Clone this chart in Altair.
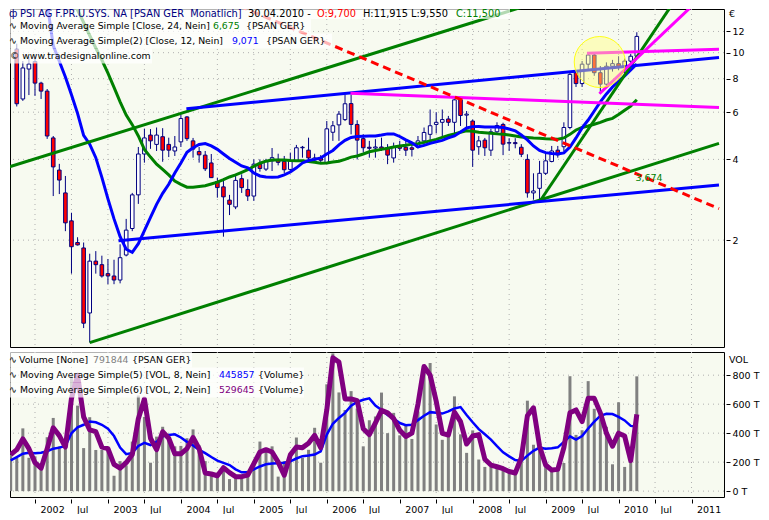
import altair as alt
import pandas as pd

FONT = "DejaVu Sans"
BG = "#F7FAF0"

# ---------------- data ----------------
# month index t = months since Jan 2002 (Jan 2002 = 0)
months = pd.date_range("2001-09-01", "2010-04-01", freq="MS")
t_all = [(d.year - 2002) * 12 + d.month - 1 for d in months]          # -4 .. 99
t_candle = t_all[1:]                                                    # Oct 2001 .. Apr 2010

opens = [10.3, 6.72, 8.69, 9.27, 7.7, 7.19, 4.81, 3.65, 3.0, 2.36, 1.96, 1.87, 1.07, 1.67, 1.62,
         1.50, 1.47, 1.42, 1.76, 2.21, 2.95, 4.19, 4.93, 4.55, 4.86, 4.55, 4.30, 4.65, 5.76, 4.69,
         4.28, 4.15, 3.88, 3.31, 3.16, 2.82, 2.66, 3.39, 3.09, 2.92, 3.84, 3.68, 3.95, 4.0, 3.93,
         3.67, 3.95, 4.42, 4.33, 3.98, 4.06, 3.89, 5.05, 5.38, 5.63, 6.46, 5.40, 4.78, 4.44, 4.41,
         4.45, 4.42, 4.05, 4.49, 4.44, 4.42, 4.44, 4.69, 4.96, 5.40, 5.5, 5.66, 5.5, 6.67, 5.85,
         5.56, 4.46, 4.72, 4.33, 5.07, 5.40, 4.6, 4.62, 4.44, 4.0, 3.0, 3.12, 3.55, 3.93, 4.33,
         4.46, 5.26, 8.42, 7.67, 9.06, 9.8, 8.42, 7.63, 8.9, 9.1, 8.9, 9.3, 9.7]
highs = [10.8, 9.31, 9.63, 9.6, 7.79, 7.32, 4.89, 3.85, 3.47, 2.53, 2.05, 1.96, 1.78, 1.82, 1.75,
         1.70, 1.69, 1.93, 2.40, 3.0, 4.45, 5.21, 5.19, 5.26, 5.23, 4.82, 4.89, 5.86, 5.80, 4.81,
         4.45, 4.30, 4.19, 3.42, 3.34, 2.95, 3.47, 3.52, 3.37, 4.0, 4.0, 4.02, 4.41, 4.2, 4.12,
         4.24, 4.53, 4.49, 4.82, 4.2, 4.15, 5.56, 5.56, 6.06, 6.98, 6.98, 5.60, 4.96, 4.69, 4.76,
         4.82, 4.56, 4.62, 4.69, 4.69, 4.62, 4.89, 5.26, 6.14, 6.0, 6.14, 5.81, 6.71, 6.77, 6.06,
         5.63, 4.89, 4.81, 5.2, 5.5, 5.48, 4.8, 4.8, 4.56, 4.18, 3.55, 3.95, 4.2, 4.49, 4.49,
         5.5, 8.42, 8.54, 9.31, 9.95, 9.95, 8.92, 9.2, 9.4, 9.7, 9.5, 9.9, 11.915]
lows = [6.3, 6.61, 6.95, 6.9, 6.72, 4.77, 2.92, 2.97, 2.16, 1.50, 1.91, 0.94, 0.83, 1.50, 1.45,
        1.37, 1.37, 1.38, 1.74, 2.16, 2.73, 3.89, 4.38, 4.30, 3.92, 4.08, 4.12, 4.45, 4.69, 4.06,
        3.89, 3.62, 3.41, 2.88, 2.06, 2.48, 2.61, 3.0, 2.80, 2.80, 3.6, 3.62, 3.62, 3.8, 3.56,
        3.56, 3.95, 4.06, 3.95, 3.90, 3.85, 3.84, 4.69, 4.69, 5.56, 4.96, 4.0, 4.24, 4.06, 4.06,
        4.3, 3.84, 3.89, 4.3, 4.12, 4.10, 4.40, 4.49, 4.56, 5.0, 4.89, 5.33, 4.89, 5.33, 5.11,
        3.75, 4.16, 4.12, 4.12, 4.95, 4.15, 4.3, 4.4, 4.08, 2.88, 2.83, 2.78, 3.50, 3.9, 4.06,
        4.3, 5.18, 7.45, 7.45, 8.6, 8.2, 7.02, 7.5, 8.5, 8.6, 8.4, 9.0, 9.55]
closes = [6.45, 8.77, 9.07, 7.7, 7.19, 4.89, 3.75, 3.35, 2.32, 1.89, 1.92, 0.98, 1.67, 1.62, 1.47,
          1.47, 1.42, 1.72, 2.18, 2.95, 4.19, 4.81, 4.69, 4.93, 4.33, 4.33, 4.45, 5.68, 4.78, 4.37,
          4.16, 3.69, 3.42, 3.14, 2.90, 2.72, 3.34, 3.14, 2.92, 3.84, 3.7, 3.96, 4.06, 3.9, 3.66,
          3.95, 4.42, 4.44, 4.05, 4.05, 3.97, 5.2, 5.34, 5.90, 6.45, 5.40, 4.72, 4.42, 4.40, 4.45,
          4.40, 4.15, 4.45, 4.40, 4.33, 4.36, 4.69, 5.04, 5.34, 5.50, 5.63, 5.5, 6.67, 5.83, 5.9,
          4.33, 4.69, 4.42, 5.07, 5.35, 4.56, 4.62, 4.58, 4.18, 3.0, 3.05, 3.55, 3.95, 4.30, 4.16,
          5.26, 8.3, 7.67, 9.06, 9.8, 8.42, 7.63, 8.9, 9.1, 8.9, 9.3, 9.7, 11.5]

ma24 = [31, 29.5, 28, 26.5, 25, 23.5, 22, 20.5, 19, 17.5, 16.0, 14.43, 12.96, 11.59, 10.41, 9.39,
        8.39, 7.42, 6.56, 5.85, 5.39, 4.89, 4.36, 4.08, 3.84, 3.67, 3.50, 3.32, 3.23, 3.15, 3.15,
        3.17, 3.19, 3.24, 3.29, 3.36, 3.44, 3.50, 3.58, 3.66, 3.77, 3.87, 3.94, 3.98, 3.98, 3.98,
        3.96, 3.95, 3.95, 3.93, 3.90, 3.87, 3.88, 3.91, 3.94, 4.0, 4.08, 4.12, 4.19, 4.27, 4.32,
        4.36, 4.40, 4.45, 4.49, 4.52, 4.56, 4.58, 4.63, 4.69, 4.75, 4.83, 4.91, 4.98, 5.05, 5.11,
        5.09, 5.05, 5.03, 5.01, 4.98, 4.96, 4.93, 4.89, 4.85, 4.83, 4.81, 4.80, 4.78, 4.77, 4.76,
        4.81, 4.96, 5.15, 5.26, 5.33, 5.41, 5.50, 5.61, 5.69, 5.88, 6.10, 6.32, 6.675]
ma12 = [30, 27.5, 25, 23, 21, 18.5, 15.3, 10.63, 9.29, 8.11, 6.97, 5.94, 4.92, 4.56, 4.06, 3.43,
        2.85, 2.40, 2.06, 1.85, 1.80, 1.94, 2.17, 2.43, 2.72, 2.99, 3.23, 3.56, 3.88, 4.25, 4.42,
        4.55, 4.58, 4.49, 4.36, 4.19, 4.03, 3.90, 3.78, 3.72, 3.56, 3.47, 3.44, 3.43, 3.44, 3.50,
        3.59, 3.72, 3.88, 3.96, 4.0, 4.05, 4.19, 4.32, 4.53, 4.71, 4.83, 4.87, 4.88, 4.89, 4.89,
        4.93, 4.98, 4.98, 4.87, 4.73, 4.61, 4.45, 4.51, 4.59, 4.65, 4.71, 4.81, 4.89, 5.06, 5.24,
        5.30, 5.31, 5.28, 5.28, 5.28, 5.26, 5.19, 5.11, 4.93, 4.73, 4.49, 4.32, 4.24, 4.21, 4.19,
        4.23, 4.45, 4.81, 5.24, 5.61, 6.06, 6.55, 7.02, 7.45, 7.84, 8.19, 8.62, 9.071]

volume = [252, 230, 433, 230, 240, 165, 372, 505, 310, 310, 800, 590, 297, 510, 284, 284, 284, 106,
          207, 178, 342, 660, 512, 196, 376, 444, 376, 309, 312, 365, 426, 316, 207, 117, 106, 140,
          83, 106, 106, 140, 207, 342, 270, 309, 100, 207, 248, 370, 230, 285, 437, 196, 737, 950,
          681, 560, 690, 570, 309, 489, 515, 680, 400, 540, 385, 450, 360, 550, 827, 884, 460, 354,
          410, 654, 392, 264, 419, 218, 167, 167, 162, 158, 140, 117, 257, 624, 320, 342, 199, 149,
          171, 194, 793, 388, 420, 759, 568, 496, 444, 185, 613, 167, 203, 792]
vol_ma8 = [212, 235, 258, 264, 262, 265, 275, 293, 300, 312, 400, 440, 458, 480, 475, 458, 430, 380,
           300, 255, 264, 312, 333, 318, 340, 378, 388, 392, 370, 340, 315, 285, 262, 235, 210, 195,
           180, 150, 130, 130, 150, 170, 185, 190, 193, 196, 205, 225, 241, 246, 252, 275, 390, 465,
           505, 540, 590, 615, 630, 640, 590, 560, 525, 500, 470, 455, 458, 490, 520, 545, 540, 535,
           550, 570, 580, 525, 475, 428, 392, 355, 310, 268, 240, 215, 208, 245, 278, 300, 293, 296,
           302, 340, 378, 355, 380, 432, 480, 520, 534, 532, 512, 488, 450, 446]
vol_ma2 = [252, 286, 360, 293, 196, 158, 293, 437, 383, 304, 640, 800, 512, 422, 410, 304, 293, 185,
           158, 196, 252, 500, 635, 365, 286, 410, 365, 257, 257, 293, 370, 293, 125, 118, 106, 162,
           128, 100, 100, 110, 190, 270, 286, 270, 200, 110, 250, 305, 300, 330, 385, 300, 560, 920,
           890, 636, 636, 624, 430, 390, 470, 557, 540, 500, 420, 377, 400, 600, 860, 800, 620, 399,
           387, 545, 480, 325, 380, 390, 220, 180, 168, 155, 135, 125, 230, 520, 575, 310, 180, 145,
           150, 300, 540, 560, 480, 640, 640, 540, 400, 310, 400, 380, 210, 530]

# trend lines: (id, month index, price) end points
green_lines = {"id": ["g1", "g1", "g2", "g2", "g3", "g3"],
               "t": [-4.3, 81.4, 9.0, 112.52, 83.0, 105.2],
               "p": [3.75, 15.1, 0.83, 4.59, 2.78, 15.59]}
blue_lines = {"id": ["b1", "b1", "b2", "b2"],
              "t": [24.9, 112.52, 13.74, 112.52],
              "p": [6.18, 9.60, 1.99, 3.21]}
magenta_lines = {"id": ["m1", "m1", "m2", "m2", "m3", "m3"],
                 "t": [51.9, 112.52, 90.8, 112.52, 92.85, 108.95],
                 "p": [7.06, 6.24, 9.95, 10.3, 7.03, 15.59]}
red_line = {"id": ["r1", "r1"], "t": [31.65, 112.52], "p": [15.59, 2.62]}

tick_months = list(range(0, 109, 6))
tick_labels = ["2002", "Jul", "2003", "Jul", "2004", "Jul", "2005", "Jul", "2006", "Jul",
               "2007", "Jul", "2008", "Jul", "2009", "Jul", "2010", "Jul", "2011"]
price_ticks = [2, 4, 6, 8, 10, 12]
vol_ticks = [0, 200, 400, 600, 800]

# ---------------- frames ----------------
cd = pd.DataFrame({"t": t_candle, "o": opens, "h": highs, "l": lows, "c": closes})
ma = pd.DataFrame({"t": t_all, "ma12": ma12, "ma24": ma24})
vd = pd.DataFrame({"t": t_all, "v": volume, "m8": vol_ma8, "m2": vol_ma2})
one = pd.DataFrame({"k": [0]})

W = 714
H_TOP = 338
H_BOT = 145

xs = alt.Scale(domain=[-3.29, 112.52], nice=False, zero=False)
ys = alt.Scale(type="log", domain=[0.799, 14.55], nice=False)
vs = alt.Scale(domain=[-40.6, 960], nice=False, zero=False)

yax = alt.Axis(orient="right", values=price_ticks, title=None, grid=False, domain=False,
               tickSize=4, offset=2, labelPadding=2, labelFont=FONT, labelFontSize=9.5,
               labelColor="black", tickColor="black", format="d")
vax = alt.Axis(orient="right", values=vol_ticks, title=None, grid=False, domain=False,
               tickSize=4, offset=2, labelPadding=2, labelFont=FONT, labelFontSize=9.5,
               labelColor="black", tickColor="black", labelExpr="datum.value + ' T'")
label_arr = "[" + ",".join("'%s'" % s for s in tick_labels) + "]"
xax = alt.Axis(values=tick_months, title=None, grid=False, domain=False, tickSize=4, offset=2,
               labelPadding=1, labelAlign="left", labelOffset=5, labelFont=FONT,
               labelFontSize=9.5, labelColor="black", tickColor="black", labelOverlap=False,
               labelFlush=False, labelExpr=label_arr + "[round(datum.value / 6)]")

XT = alt.X("t:Q", scale=xs, axis=None)
GRID = dict(color="#B0B0B0", strokeDash=[1, 4], strokeWidth=1)


def txt(s, x, y, color="black", size=9.3):
    return alt.Chart(one).mark_text(text=s, align="left", baseline="middle", font=FONT,
                                    fontSize=size, color=color).encode(x=alt.value(x), y=alt.value(y))


def box(x2, y1, y2):
    return alt.Chart(one).mark_rect(color="white", opacity=0.7).encode(
        x=alt.value(0), x2=alt.value(x2), y=alt.value(y1), y2=alt.value(y2))


def tline(d, color, width=3, dash=None):
    kw = dict(color=color, strokeWidth=width, clip=True)
    if dash:
        kw["strokeDash"] = dash
    return alt.Chart(pd.DataFrame(d)).mark_line(**kw).encode(
        x=XT, y=alt.Y("p:Q", scale=ys, axis=yax), detail="id:N")


# ---------------- top panel ----------------
gv_top = alt.Chart(pd.DataFrame({"g": tick_months})).mark_rule(**GRID).encode(
    x=alt.X("g:Q", scale=xs, axis=None))
gh_top = alt.Chart(pd.DataFrame({"g": price_ticks})).mark_rule(**GRID).encode(
    y=alt.Y("g:Q", scale=ys, axis=yax))

wick = alt.Chart(cd).mark_rule(color="#000080", strokeWidth=1, clip=True).encode(
    x=XT, y=alt.Y("l:Q", scale=ys, axis=yax), y2="h:Q")
body = alt.Chart(cd).mark_bar(size=3.6, stroke="#000080", strokeWidth=1, clip=True).encode(
    x=XT, y=alt.Y("o:Q", scale=ys, axis=yax), y2="c:Q",
    color=alt.condition("datum.c < datum.o", alt.value("#FF0000"), alt.value("#FFFFFF")))

l24 = alt.Chart(ma).mark_line(color="#008000", strokeWidth=3, clip=True).encode(
    x=XT, y=alt.Y("ma24:Q", scale=ys, axis=yax))
l12 = alt.Chart(ma).mark_line(color="#0000FF", strokeWidth=3, clip=True).encode(
    x=XT, y=alt.Y("ma12:Q", scale=ys, axis=yax))

circle = alt.Chart(one).mark_point(shape="circle", size=2601, filled=True, fill="#FFFF80",
                                   fillOpacity=0.45, stroke="#FFFF00", strokeOpacity=0.9,
                                   strokeWidth=1, clip=True).encode(
    x=alt.X(datum=92.9, scale=xs, axis=None), y=alt.Y(datum=9.23, scale=ys, axis=yax))

val_lbl = alt.Chart(one).mark_text(text="3,674", font=FONT, fontSize=9.5, color="#008000",
                                   align="center", baseline="middle").encode(
    x=alt.X(datum=101.0, scale=xs, axis=None), y=alt.Y(datum=3.42, scale=ys, axis=yax))

L1 = 9.8
top = alt.layer(
    gv_top, gh_top, wick, body, l24, l12,
    tline(green_lines, "#008000"), tline(blue_lines, "#0000FF"),
    tline(magenta_lines, "#FF00FF"), tline(red_line, "#FF0000", 3, [8, 5]),
    val_lbl, circle,
    box(500, 0, 10), box(301, 10, 24.5), box(322, 24.5, 39.5), box(142, 39.5, 54.5),
    txt("ф", -1, 5, "#000080", L1),
    txt("PSI AG F.PR.U.SYS. NA [PSAN GER\u00a0\u00a0Monatlich]", 10, 5, "#000080", L1),
    txt("30.04.2010 -", 238, 5, "black", L1),
    txt("O:9,700", 307, 5, "#FF0000", L1),
    txt("H:11,915 L:9,550", 353, 5, "black", L1),
    txt("C:11,500", 446, 5, "#008000", L1),
    txt("∿", -1, 17), txt("Moving Average Simple [Close, 24, Nein]", 10, 17),
    txt("6,675", 203, 17, "#008000"), txt("{PSAN GER}", 236, 17),
    txt("∿", -1, 32), txt("Moving Average Simple(2) [Close, 12, Nein]", 10, 32),
    txt("9,071", 222, 32, "#0000FF"), txt("{PSAN GER}", 256, 32),
    txt("© www.tradesignalonline.com", 0, 47),
    txt("€", 719, 5, "black", 9.5),
).properties(width=W, height=H_TOP)

# ---------------- bottom panel ----------------
XB = alt.X("t:Q", scale=xs, axis=xax)
gv_bot = alt.Chart(pd.DataFrame({"g": tick_months})).mark_rule(**GRID).encode(
    x=alt.X("g:Q", scale=xs, axis=xax))
gh_bot = alt.Chart(pd.DataFrame({"g": vol_ticks})).mark_rule(**GRID).encode(
    y=alt.Y("g:Q", scale=vs, axis=vax))
vbars = alt.Chart(vd).mark_bar(size=3, color="#808080", clip=True).encode(
    x=XB, y=alt.Y("v:Q", scale=vs, axis=vax), y2=alt.datum(0))
vm8 = alt.Chart(vd).mark_line(color="#0000FF", strokeWidth=2.5, clip=True).encode(
    x=XB, y=alt.Y("m8:Q", scale=vs, axis=vax))
vm2 = alt.Chart(vd).mark_line(color="#800080", strokeWidth=5, strokeJoin="round", clip=True).encode(
    x=XB, y=alt.Y("m2:Q", scale=vs, axis=vax))

bottom = alt.layer(
    gv_bot, gh_bot, vbars, vm8, vm2,
    box(182, 0, 15.5), box(294, 15.5, 30.5), box(294, 30.5, 45.5),
    txt("∿", -1, 8), txt("Volume [None]", 9, 8), txt("791844", 83, 8, "#808080"),
    txt("{PSAN GER}", 122, 8),
    txt("∿", -1, 23), txt("Moving Average Simple(5) [VOL, 8, Nein]", 10, 23),
    txt("445857", 209, 23, "#0000FF"), txt("{Volume}", 248, 23),
    txt("∿", -1, 38), txt("Moving Average Simple(6) [VOL, 2, Nein]", 10, 38),
    txt("529645", 209, 38, "#800080"), txt("{Volume}", 248, 38),
    txt("VOL", 719, 8, "black", 9.5),
).properties(width=W, height=H_BOT)

chart = alt.vconcat(top, bottom, spacing=3).properties(
    padding=0, background="white"
).configure_view(stroke="black", strokeWidth=1, fill=BG)

chart.save("out.html", embed_options={"renderer": "svg", "actions": False})
